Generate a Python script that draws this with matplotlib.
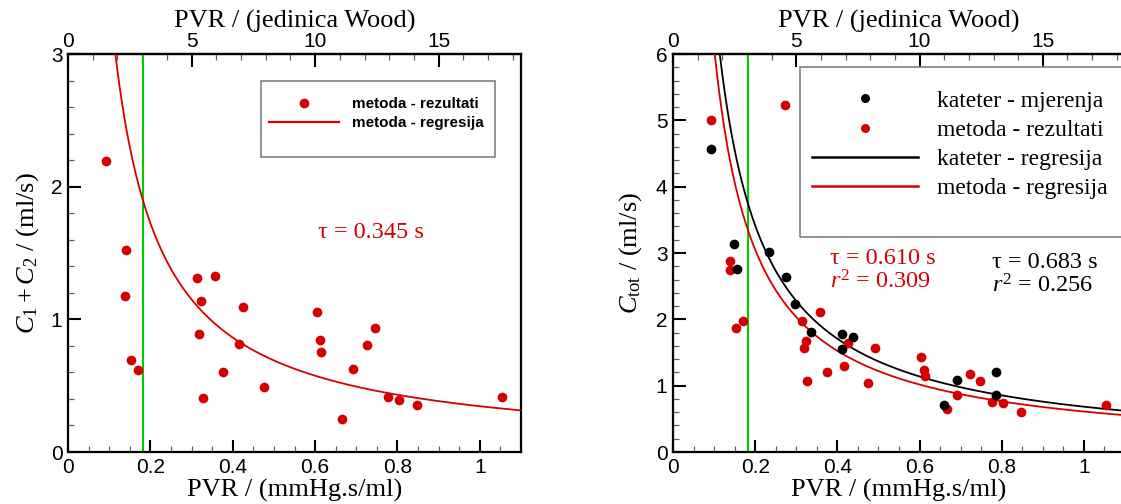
import numpy as np
import matplotlib
matplotlib.use("Agg")
import matplotlib.pyplot as plt
from matplotlib.lines import Line2D
from matplotlib.patches import Rectangle
from matplotlib.ticker import MultipleLocator, FuncFormatter, FixedLocator

plt.rcParams['font.family'] = ['Liberation Sans', 'DejaVu Sans']
plt.rcParams['mathtext.fontset'] = 'custom'
plt.rcParams['mathtext.rm'] = 'Liberation Serif'
plt.rcParams['mathtext.it'] = 'Liberation Serif:italic'
plt.rcParams['mathtext.bf'] = 'Liberation Serif:bold'

# ---------------- data ----------------
# left panel: C1 + C2 (method results)
left_pvr = [0.093, 0.140, 0.139, 0.154, 0.171, 0.314, 0.358, 0.323, 0.319, 0.327,
            0.376, 0.415, 0.425, 0.475, 0.604, 0.613, 0.615, 0.665, 0.693, 0.725,
            0.745, 0.776, 0.803, 0.847, 1.053]
left_c = [2.19, 1.525, 1.175, 0.69, 0.618, 1.31, 1.33, 1.135, 0.89, 0.41,
          0.60, 0.817, 1.093, 0.49, 1.053, 0.845, 0.757, 0.246, 0.626, 0.805,
          0.932, 0.415, 0.392, 0.354, 0.412]
left_tau = 0.345

# right panel: catheter measurements (black)
kat_pvr = [0.0935, 0.148, 0.155, 0.233, 0.275, 0.298, 0.335, 0.411, 0.411, 0.438,
           0.691, 0.659, 0.787, 0.787]
kat_c = [4.573, 3.141, 2.764, 3.02, 2.643, 2.226, 1.814, 1.779, 1.553, 1.729,
         1.085, 0.709, 1.211, 0.854]
kat_tau = 0.683
kat_r2 = 0.256

# right panel: method results (red)
met_pvr = [0.0935, 0.2725, 0.1396, 0.138, 0.1526, 0.171, 0.3586, 0.315, 0.323, 0.3194,
           0.3255, 0.375, 0.4255, 0.416, 0.474, 0.4905, 0.6036, 0.6105, 0.613, 0.666,
           0.692, 0.724, 0.746, 0.776, 0.803, 0.848, 1.053]
met_c = [5.0, 5.236, 2.874, 2.744, 1.874, 1.98, 2.11, 1.975, 1.668, 1.568,
         1.075, 1.211, 1.643, 1.296, 1.035, 1.563, 1.427, 1.231, 1.14, 0.643,
         0.854, 1.176, 1.065, 0.749, 0.734, 0.598, 0.709]
met_tau = 0.610
met_r2 = 0.309

wood_ticks = [0, 5, 10, 15]
wood_minor = list(range(0, 19))
threshold_pvr = 0.182          # vertical green line
wood_factor = 0.06             # 1 Wood unit = 0.06 mmHg.s/ml

RED = '#d40000'
GREEN = '#00cc00'
SERIF = ['Liberation Serif', 'DejaVu Serif']

W, H = 1121, 504
fig = plt.figure(figsize=(W / 100, H / 100), dpi=100)


def ax_rect(x0, x1, ytop, ybot):
    return [x0 / W, 1 - ybot / H, (x1 - x0) / W, (ybot - ytop) / H]


def frac(ax_x0, ax_w, ax_ytop, ax_h, px, py):
    return (px - ax_x0) / ax_w, (ax_ytop + ax_h - py) / ax_h


def style_axes(ax, ymax):
    ax.set_xlim(0, 1.1)
    ax.set_ylim(0, ymax)
    ax.xaxis.set_major_locator(MultipleLocator(0.2))
    ax.xaxis.set_minor_locator(MultipleLocator(0.05))
    ax.yaxis.set_major_locator(MultipleLocator(1))
    ax.yaxis.set_minor_locator(MultipleLocator(0.2))
    ax.tick_params(which='both', direction='in', top=False, right=False,
                   labelsize=15, pad=4)
    ax.tick_params(which='major', length=9, width=1.5)
    ax.tick_params(which='minor', length=4.5, width=0.9, color='#606060')
    ax.xaxis.set_major_formatter(FuncFormatter(lambda v, p: '%g' % round(v, 2)))
    for s in ax.spines.values():
        s.set_linewidth(1.6)
    ax.set_xlabel('PVR / (mmHg.s/ml)', fontsize=19, family=SERIF)
    ax.xaxis.set_label_coords(0.5, (452 - 490) / 398)
    ax.xaxis.label.set_va('center')
    sec = ax.secondary_xaxis('top', functions=(lambda x: x / wood_factor,
                                              lambda v: v * wood_factor))
    sec.xaxis.set_major_locator(FixedLocator(wood_ticks))
    sec.xaxis.set_minor_locator(FixedLocator(wood_minor))
    sec.tick_params(which='both', direction='in', labelsize=15, pad=2)
    sec.tick_params(which='major', length=9, width=1.5)
    sec.tick_params(which='minor', length=4.5, width=0.9, color='#606060')
    sec.spines['top'].set_linewidth(1.6)
    ax.text(0.5, (452 - 21) / 398, 'PVR / (jedinica Wood)', transform=ax.transAxes,
            ha='center', va='center', fontsize=19, family=SERIF)
    return sec


# ---------------- left panel ----------------
axL = fig.add_axes(ax_rect(68, 521, 54, 452))
style_axes(axL, 3)
xs = np.linspace(0.05, 1.1, 400)
axL.plot(xs, left_tau / xs, color=RED, lw=1.3, zorder=3)
axL.axvline(threshold_pvr, color=GREEN, lw=1.5, zorder=2)
axL.plot(left_pvr, left_c, 'o', color=RED, ms=7, mec='none', zorder=4)
axL.set_ylabel(r'$C_1 + C_2$ / (ml/s)', fontsize=19, family=SERIF)
axL.yaxis.set_label_coords((28 - 68) / 453, 0.5)
axL.yaxis.label.set_va('center')

fx0, fy0 = frac(68, 453, 54, 398, 261, 157)
fx1, fy1 = frac(68, 453, 54, 398, 495, 81)
axL.add_patch(Rectangle((fx0, fy0), fx1 - fx0, fy1 - fy0, transform=axL.transAxes,
                        fill=False, ec='#808080', lw=1.2, zorder=5))
hL = [Line2D([], [], ls='none', marker='o', color=RED, ms=7, mec='none'),
      Line2D([], [], color=RED, lw=1.6)]
lx, ly = frac(68, 453, 54, 398, 269, 97)
axL.legend(hL, ['metoda - rezultati', 'metoda - regresija'],
           loc='upper left', bbox_to_anchor=(lx, ly), frameon=False,
           borderpad=0, borderaxespad=0, handlelength=4.6, handletextpad=0.85,
           labelspacing=0.32,
           prop={'family': ['Liberation Sans'], 'weight': 'bold', 'size': 11})

tx, ty = frac(68, 453, 54, 398, 371, 232)
axL.text(tx, ty, 'τ = %.3f s' % left_tau, transform=axL.transAxes, ha='center',
         va='center', color=RED, fontsize=17.5, family=SERIF)

# ---------------- right panel ----------------
axR = fig.add_axes(ax_rect(673, 1125, 54, 452))
style_axes(axR, 6)
xs2 = np.linspace(0.05, 1.1, 400)
axR.plot(xs2, kat_tau / xs2, color='black', lw=1.3, zorder=3)
axR.plot(xs2, met_tau / xs2, color=RED, lw=1.3, zorder=3)
axR.axvline(threshold_pvr, color=GREEN, lw=1.5, zorder=2)
axR.plot(met_pvr, met_c, 'o', color=RED, ms=7, mec='none', zorder=4)
axR.plot(kat_pvr, kat_c, 'o', color='black', ms=7, mec='none', zorder=4)
axR.set_ylabel(r'$C_{\mathrm{tot}}$ / (ml/s)', fontsize=19, family=SERIF)
axR.yaxis.set_label_coords((631 - 673) / 452, 0.5)
axR.yaxis.label.set_va('center')

gx0, gy0 = frac(673, 452, 54, 398, 800, 237)
gx1, gy1 = frac(673, 452, 54, 398, 1150, 67)
axR.add_patch(Rectangle((gx0, gy0), gx1 - gx0, gy1 - gy0, transform=axR.transAxes,
                        fill=False, ec='#808080', lw=1.2, zorder=5, clip_on=False))
hR = [Line2D([], [], ls='none', marker='o', color='black', ms=6.5, mec='none'),
      Line2D([], [], ls='none', marker='o', color=RED, ms=6.5, mec='none'),
      Line2D([], [], color='black', lw=1.8),
      Line2D([], [], color=RED, lw=1.8)]
rx, ry = frac(673, 452, 54, 398, 812, 90)
axR.legend(hR, ['kateter - mjerenja', 'metoda - rezultati',
                'kateter - regresija', 'metoda - regresija'],
           loc='upper left', bbox_to_anchor=(rx, ry), frameon=False,
           borderpad=0, borderaxespad=0, handlelength=4.5, handletextpad=0.8,
           labelspacing=0.33, prop={'family': SERIF, 'size': 17})

p = frac(673, 452, 54, 398, 830, 258)
axR.text(p[0], p[1], 'τ = %.3f s' % met_tau, transform=axR.transAxes, ha='left',
         va='center', color=RED, fontsize=17.5, family=SERIF)
p = frac(673, 452, 54, 398, 830, 282)
axR.text(p[0], p[1], r'$r^2$' + ' = %.3f' % met_r2, transform=axR.transAxes,
         ha='left', va='center', color=RED, fontsize=17.5, family=SERIF)
p = frac(673, 452, 54, 398, 992, 262)
axR.text(p[0], p[1], 'τ = %.3f s' % kat_tau, transform=axR.transAxes, ha='left',
         va='center', color='black', fontsize=17.5, family=SERIF)
p = frac(673, 452, 54, 398, 992, 286)
axR.text(p[0], p[1], r'$r^2$' + ' = %.3f' % kat_r2, transform=axR.transAxes,
         ha='left', va='center', color='black', fontsize=17.5, family=SERIF)

fig.savefig('out.png', dpi=100)
